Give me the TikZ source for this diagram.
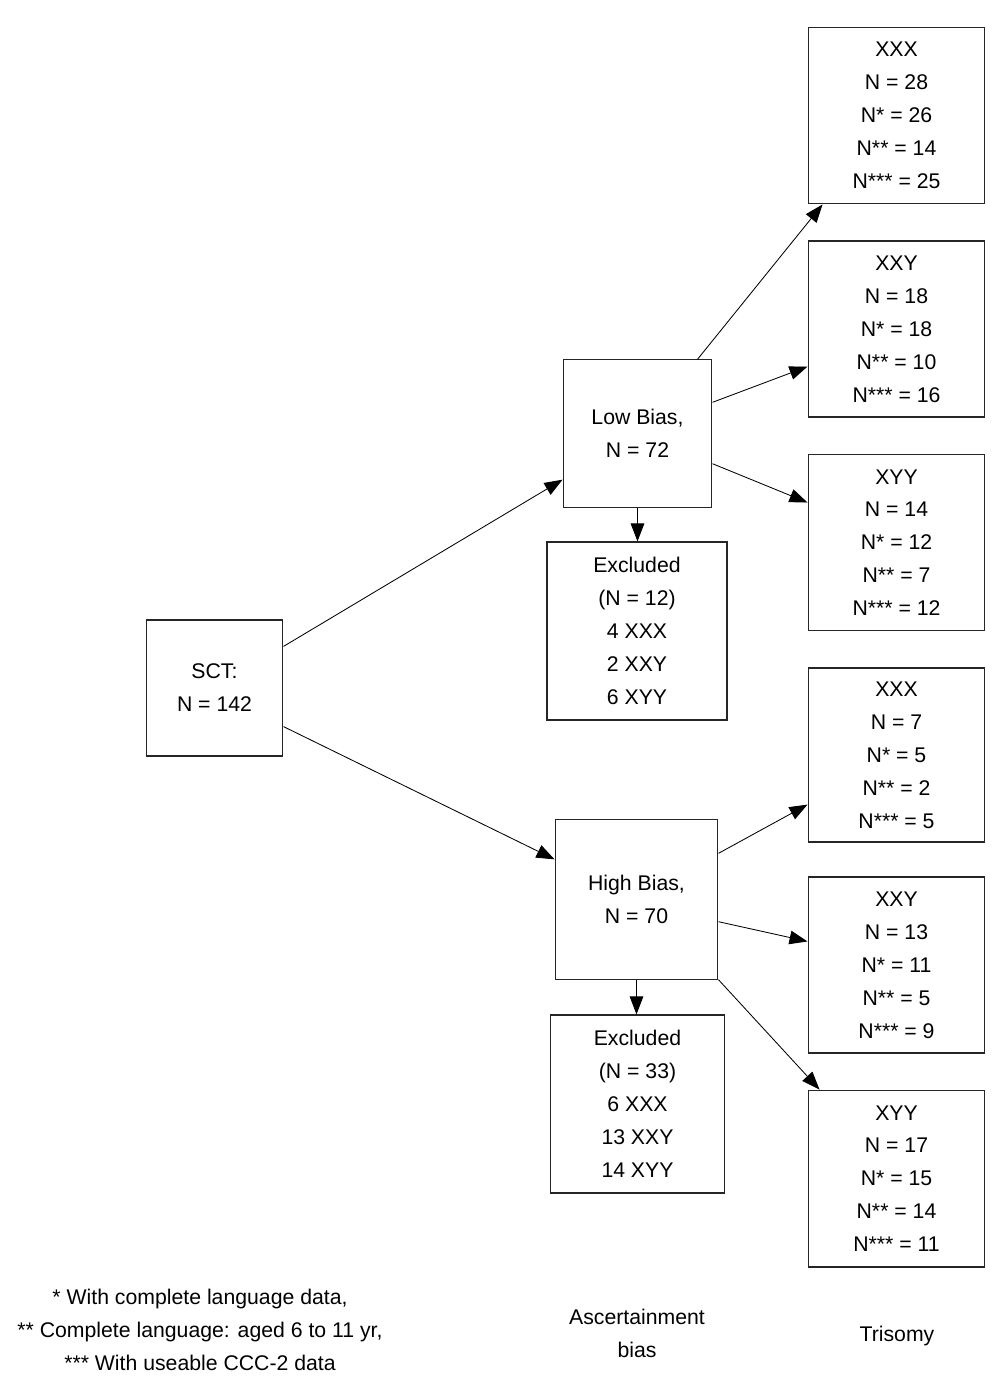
\documentclass[tikz,border=0pt]{standalone}
\usepackage{fontspec}
\setmainfont{Liberation Sans}
\usetikzlibrary{arrows.meta,positioning,calc}
\newcommand{\sctfont}{\fontsize{15.1}{23.4}\selectfont}
\tikzset{
  sctBox/.style={draw=black!85, line width=0.8pt, align=center, inner sep=0pt, font=\sctfont},
  sctArrow/.style={-{Triangle[length=0.45cm, width=0.34cm]}, line width=0.6pt},
  sctLabel/.style={align=center, font=\sctfont}
}

\begin{document}
\begin{tikzpicture}[x=0.025cm,y=-0.025cm]
  \useasboundingbox (0,0) rectangle (1000,1384);
  % first level
  \node[sctBox, minimum width=3.42cm, minimum height=3.4cm] (sct) at (214.5,688) {SCT:\\N = 142};
  % ascertainment bias
  \node[sctBox, minimum width=3.72cm, minimum height=3.68cm] (low) at (637.5,433.5) {Low Bias,\\N = 72};
  \node[sctBox, minimum width=4.07cm, minimum height=3.98cm] (high) at (636.5,899.5) {High Bias,\\N = 70};
  \node[sctBox, minimum width=4.5cm, minimum height=4.45cm] (exlow) at (637,631) {Excluded\\(N = 12)\\4 XXX\\2 XXY\\6 XYY};
  \node[sctBox, minimum width=4.37cm, minimum height=4.45cm] (exhigh) at (637.5,1104) {Excluded\\(N = 33)\\6 XXX\\13 XXY\\14 XYY};
  % trisomy
  \node[sctBox, minimum width=4.42cm, minimum height=4.42cm] (lxxx) at (896.5,115.5) {XXX\\N = 28\\N* = 26\\N** = 14\\N*** = 25};
  \node[sctBox, minimum width=4.42cm, minimum height=4.4cm] (lxxy) at (896.5,329) {XXY\\N = 18\\N* = 18\\N** = 10\\N*** = 16};
  \node[sctBox, minimum width=4.42cm, minimum height=4.42cm] (lxyy) at (896.5,542.5) {XYY\\N = 14\\N* = 12\\N** = 7\\N*** = 12};
  \node[sctBox, minimum width=4.42cm, minimum height=4.35cm] (hxxx) at (896.5,755) {XXX\\N = 7\\N* = 5\\N** = 2\\N*** = 5};
  \node[sctBox, minimum width=4.42cm, minimum height=4.4cm] (hxxy) at (896.5,965) {XXY\\N = 13\\N* = 11\\N** = 5\\N*** = 9};
  \node[sctBox, minimum width=4.42cm, minimum height=4.42cm] (hxyy) at (896.5,1178.5) {XYY\\N = 17\\N* = 15\\N** = 14\\N*** = 11};
  % connectors
  \draw[sctArrow] ($(sct.north east)+(0,27)$) -- ($(low.south west)+(0,-28)$);
  \draw[sctArrow] ($(sct.south east)+(0,-30)$) -- ($(high.north west)+(0,40)$);
  \draw[sctArrow] ($(low.north east)+(-15,0)$) -- ($(lxxx.south west)+(15,0)$);
  \draw[sctArrow] ($(low.north east)+(0,43)$) -- ($(lxxy.south west)+(0,-51)$);
  \draw[sctArrow] ($(low.south east)+(0,-44)$) -- ($(lxyy.north west)+(0,49)$);
  \draw[sctArrow] (low.south) -- (low.south |- exlow.north);
  \draw[sctArrow] ($(high.north east)+(0,34)$) -- ($(hxxx.south west)+(0,-38)$);
  \draw[sctArrow] ($(high.south east)+(0,-58)$) -- ($(hxxy.north west)+(0,65)$);
  \draw[sctArrow] (high.south east) -- ($(hxyy.north west)+(12,0)$);
  \draw[sctArrow] (high.south) -- (high.south |- exhigh.north);
  % footnotes and column labels
  \node[sctLabel] (notes) at (200,1330) {* With complete language data,\\** Complete language: aged 6 to 11 yr,\\*** With useable CCC-2 data};
  \node[sctLabel] (biaslab) at (637,1333.5) {Ascertainment\\bias};
  \node[sctLabel] (trilab) at (897,1336) {Trisomy};
\end{tikzpicture}
\end{document}
